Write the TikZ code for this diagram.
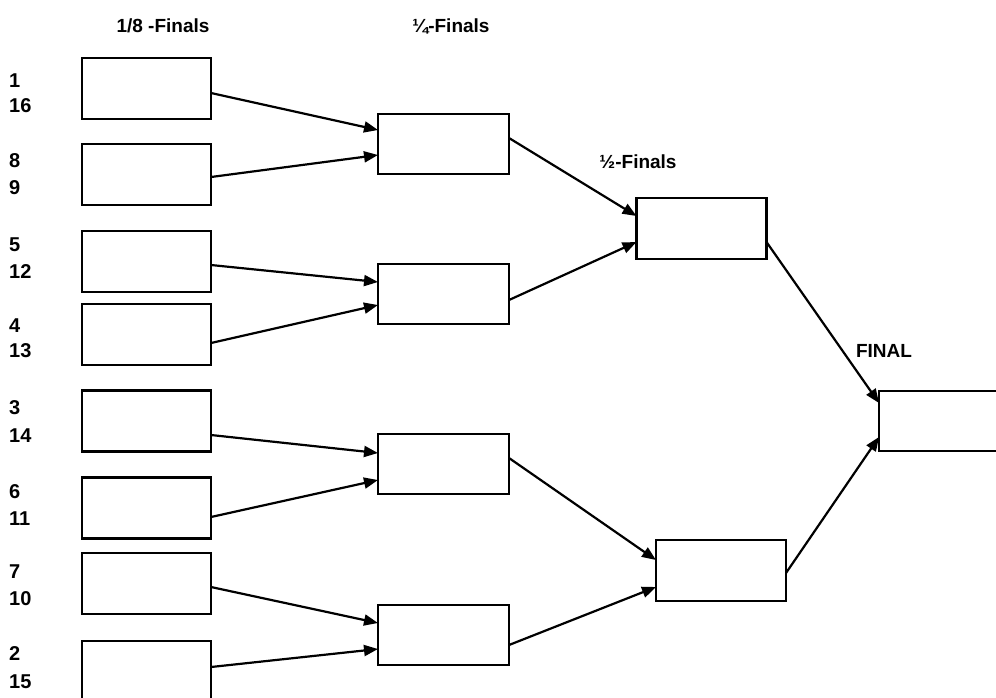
\documentclass[tikz,border=0pt]{standalone}
\usepackage{fontspec}
\setmainfont{Liberation Sans}
\usetikzlibrary{arrows.meta,calc}
\begin{document}
\begin{tikzpicture}[x=1pt,y=-1pt,
  matchbox/.style={draw=black,line width=2.4pt,fill=white,minimum height=61pt,inner sep=0pt,outer sep=0pt},
  lbox/.style={matchbox,minimum width=129pt},
  qbox/.style={matchbox,minimum width=131pt,minimum height=60pt},
  sbox/.style={matchbox,minimum width=130pt},
  conn/.style={draw=black,line width=2.2pt,-{Triangle[length=14pt,width=11pt]}},
  head/.style={font=\fontsize{19}{22}\selectfont\bfseries,inner sep=0pt},
  seed/.style={font=\fontsize{20}{22}\selectfont\bfseries,inner sep=0pt,anchor=west}]
\useasboundingbox (0,0) rectangle (996,697);
\clip (0,0) rectangle (996,697);
\fill[white] (0,0) rectangle (996,697);

% headers
\node[head] (h8) at (163,26) {1/8 -Finals};
\node[head] (h4) at (451,26) {¼-Finals};
\node[head] (h2) at (638,162) {½-Finals};
\node[head] (hf) at (884,351) {FINAL};

% seeds
\node[seed] (n1) at (9,81) {1};
\node[seed] (n16) at (9,106) {16};
\node[seed] (n8) at (9,160.5) {8};
\node[seed] (n9) at (9,188) {9};
\node[seed] (n5) at (9,245) {5};
\node[seed] (n12) at (9,272) {12};
\node[seed] (n4) at (9,326) {4};
\node[seed] (n13) at (9,351) {13};
\node[seed] (n3) at (9,408) {3};
\node[seed] (n14) at (9,436) {14};
\node[seed] (n6) at (9,492) {6};
\node[seed] (n11) at (9,519) {11};
\node[seed] (n7) at (9,572) {7};
\node[seed] (n10) at (9,599) {10};
\node[seed] (n2) at (9,654) {2};
\node[seed] (n15) at (9,682) {15};

% 1/8 boxes
\node[lbox] (e1) at (146.5,88.5) {};
\node[lbox] (e2) at (146.5,174.5) {};
\node[lbox] (e3) at (146.5,261.5) {};
\node[lbox] (e4) at (146.5,334.5) {};
\node[lbox] (e5) at (146.5,421) {};
\node[lbox] (e6) at (146.5,508) {};
\node[lbox] (e7) at (146.5,583.5) {};
\node[lbox] (e8) at (146.5,671.5) {};

% quarter boxes
\node[qbox] (q1) at (443.5,144) {};
\node[qbox] (q2) at (443.5,294) {};
\node[qbox] (q3) at (443.5,464) {};
\node[qbox] (q4) at (443.5,635) {};

% semi boxes
\node[sbox] (s1) at (701.5,228.5) {};
\node[sbox] (s2) at (721,570.5) {};

% final box
\node[matchbox,minimum width=160pt,minimum height=60pt] (f) at (959,421) {};

% connectors
\draw[conn] ($(e1.east)+(0,4.5)$) -- ($(q1.west)+(0,-14)$);
\draw[conn] ($(e2.east)+(0,2.5)$) -- ($(q1.west)+(0,11)$);
\draw[conn] ($(e3.east)+(0,3.5)$) -- ($(q2.west)+(0,-12)$);
\draw[conn] ($(e4.east)+(0,8.5)$) -- ($(q2.west)+(0,11)$);
\draw[conn] ($(e5.east)+(0,14)$) -- ($(q3.west)+(0,-11)$);
\draw[conn] ($(e6.east)+(0,9)$) -- ($(q3.west)+(0,16)$);
\draw[conn] ($(e7.east)+(0,3.5)$) -- ($(q4.west)+(0,-12)$);
\draw[conn] ($(e8.east)+(0,-4.5)$) -- ($(q4.west)+(0,14)$);

\draw[conn] ($(q1.east)+(0,-6)$) -- ($(s1.west)+(0,-12.5)$);
\draw[conn] ($(q2.east)+(0,6)$) -- ($(s1.west)+(0,13.5)$);
\draw[conn] ($(q3.east)+(0,-6)$) -- ($(s2.west)+(0,-10.5)$);
\draw[conn] ($(q4.east)+(0,10)$) -- ($(s2.west)+(0,16.5)$);

\draw[conn] ($(s1.east)+(0,13.5)$) -- ($(f.west)+(0,-18)$);
\draw[conn] ($(s2.east)+(0,2.5)$) -- ($(f.west)+(0,16)$);
\end{tikzpicture}
\end{document}
